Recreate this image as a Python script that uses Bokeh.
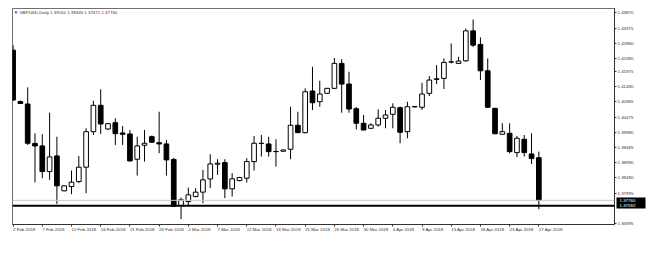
from bokeh.plotting import figure
from bokeh.models import (Range1d, LinearAxis, FixedTicker, Span, Label,
                          ColumnDataSource, PrintfTickFormatter)
from bokeh.embed import file_html
from bokeh.resources import INLINE

# ---- data (GBPUSD Daily, 2 Feb 2018 .. 27 Apr 2018, incl. Sunday bars) ----
opens = [1.42656, 1.40981, 1.40900, 1.39615, 1.39534, 1.38698, 1.39208, 1.38070, 1.38210, 1.38372,
         1.38841, 1.39999, 1.40858, 1.40087, 1.40292, 1.39957, 1.39924, 1.39101, 1.39556, 1.39836,
         1.39641, 1.39599, 1.39095, 1.37592, 1.37722, 1.37884, 1.38028, 1.38460, 1.38938, 1.38990,
         1.38135, 1.38405, 1.38483, 1.39023, 1.39612, 1.39599, 1.39355, 1.39361, 1.39426, 1.40207,
         1.39966, 1.41323, 1.40975, 1.41248, 1.41411, 1.42224, 1.41550, 1.40747, 1.40272, 1.40109,
         1.40217, 1.40435, 1.40565, 1.40780, 1.39999, 1.40806, 1.40793, 1.41248, 1.41703, 1.41736,
         1.42266, 1.42224, 1.42308, 1.43284, 1.42842, 1.41983, 1.40760, 1.39914, 1.39947, 1.39316,
         1.39752, 1.39273, 1.39150]
highs = [1.42819, 1.41014, 1.41443, 1.39947, 1.39914, 1.40617, 1.39836, 1.38249, 1.38730, 1.39208,
         1.40109, 1.41007, 1.41378, 1.40282, 1.40435, 1.40184, 1.40054, 1.39836, 1.40054, 1.39875,
         1.40649, 1.39729, 1.39143, 1.37852, 1.38177, 1.38158, 1.38753, 1.39264, 1.39101, 1.39101,
         1.38646, 1.38525, 1.39133, 1.39859, 1.39891, 1.39836, 1.39752, 1.39404, 1.40812, 1.40649,
         1.41411, 1.42113, 1.41658, 1.41420, 1.42396, 1.42364, 1.41951, 1.40802, 1.40542, 1.40272,
         1.40727, 1.40705, 1.40923, 1.40819, 1.40975, 1.40835, 1.41593, 1.41811, 1.42169, 1.42386,
         1.42874, 1.42439, 1.43362, 1.43655, 1.43070, 1.42386, 1.40770, 1.40272, 1.40272, 1.39859,
         1.39891, 1.39947, 1.39346]
lows = [1.40997, 1.40900, 1.39566, 1.38340, 1.38483, 1.38428, 1.37647, 1.38054, 1.37962, 1.38320,
        1.37995, 1.39891, 1.39924, 1.40054, 1.39566, 1.39566, 1.39023, 1.38567, 1.39023, 1.39631,
        1.39296, 1.38567, 1.37549, 1.37149, 1.37592, 1.37858, 1.37670, 1.38158, 1.38590, 1.37832,
        1.37884, 1.38379, 1.38340, 1.38730, 1.39186, 1.39186, 1.38860, 1.39339, 1.39101, 1.39957,
        1.39940, 1.40705, 1.40812, 1.41225, 1.41388, 1.40617, 1.40617, 1.40070, 1.40038, 1.40087,
        1.40161, 1.40109, 1.40109, 1.39621, 1.39784, 1.40786, 1.40705, 1.41160, 1.41550, 1.41388,
        1.42224, 1.42208, 1.42276, 1.42764, 1.41681, 1.40770, 1.39914, 1.39898, 1.39296, 1.39166,
        1.39186, 1.38948, 1.37471]
closes = [1.41030, 1.40916, 1.39621, 1.39534, 1.38698, 1.39176, 1.38232, 1.38232, 1.38353, 1.38841,
          1.39999, 1.40858, 1.40249, 1.40259, 1.39934, 1.39914, 1.39046, 1.39534, 1.39621, 1.39654,
          1.39599, 1.39078, 1.37566, 1.37777, 1.37940, 1.38028, 1.38428, 1.38948, 1.38971, 1.38135,
          1.38460, 1.38503, 1.39023, 1.39621, 1.39621, 1.39348, 1.39348, 1.39404, 1.40207, 1.39966,
          1.41300, 1.40942, 1.41225, 1.41411, 1.42224, 1.41550, 1.40737, 1.40272, 1.40054, 1.40217,
          1.40435, 1.40542, 1.40793, 1.39979, 1.40812, 1.40819, 1.41225, 1.41681, 1.41723, 1.42256,
          1.42276, 1.42299, 1.43284, 1.42819, 1.41983, 1.40793, 1.39930, 1.39999, 1.39348, 1.39784,
          1.39316, 1.39121, 1.37760]

date_labels = ["2 Feb 2018", "7 Feb 2018", "12 Feb 2018", "16 Feb 2018", "21 Feb 2018",
               "26 Feb 2018", "2 Mar 2018", "7 Mar 2018", "12 Mar 2018", "16 Mar 2018",
               "21 Mar 2018", "26 Mar 2018", "30 Mar 2018", "4 Apr 2018", "9 Apr 2018",
               "13 Apr 2018", "18 Apr 2018", "23 Apr 2018", "27 Apr 2018"]
label_every = 4

price_ticks = [1.43870, 1.43375, 1.42880, 1.42380, 1.41975, 1.41480, 1.40985, 1.40475,
               1.39980, 1.39485, 1.38990, 1.38490, 1.37995, 1.36995]

title_text = "\u25bc GBPUSD,Daily  1.39150 1.39346 1.37471 1.37760"
bid_price = 1.37760
hline_price = 1.37582

# ---- build ----
n = len(opens)
idx = list(range(n))
body_top = [max(o, c) for o, c in zip(opens, closes)]
body_bot = [min(o, c) for o, c in zip(opens, closes)]
fills = ["black" if c < o else "white" for o, c in zip(opens, closes)]
src = ColumnDataSource(dict(x=idx, o=opens, h=highs, l=lows, c=closes,
                            top=body_top, bot=body_bot, fill=fills))

FONT = "Liberation Sans"
FS = "4.4px"
TXT = "#333333"

p = figure(width=648, height=266, output_backend="svg", toolbar_location=None,
           x_range=Range1d(-0.08, 82.36), y_range=Range1d(1.36973, 1.44013),
           x_axis_location=None, y_axis_location=None,
           min_border_left=12, min_border_right=34, min_border_top=8, min_border_bottom=42)
p.background_fill_color = "white"
p.border_fill_color = "white"
p.outline_line_color = "#707070"
p.outline_line_width = 1
p.xgrid.visible = False
p.ygrid.visible = False

# bid line & horizontal line
p.add_layout(Span(location=bid_price, dimension="width", line_color="#c8c8c8", line_width=1))
p.add_layout(Span(location=hline_price, dimension="width", line_color="black", line_width=2))

p.segment(x0="x", y0="h", x1="x", y1="l", source=src, line_color="black", line_width=1)
p.vbar(x="x", top="top", bottom="bot", width=0.64, source=src,
       fill_color="fill", line_color="black", line_width=1)

# right price axis
yax = LinearAxis(ticker=FixedTicker(ticks=price_ticks),
                 formatter=PrintfTickFormatter(format="%.5f"))
yax.axis_line_color = "#333333"
yax.major_tick_line_color = "#333333"
yax.major_tick_out = 2
yax.major_tick_in = 0
yax.minor_tick_out = 0
yax.minor_tick_in = 0
yax.major_label_standoff = 1
yax.major_label_text_font = FONT
yax.major_label_text_font_size = FS
yax.major_label_text_color = TXT
p.add_layout(yax, "right")

# price tags (black boxes with white text) drawn as a second right axis
tag_ax = LinearAxis(ticker=FixedTicker(ticks=[bid_price, hline_price]),
                    formatter=PrintfTickFormatter(format="%.5f"))
tag_ax.axis_line_color = None
tag_ax.major_tick_line_color = "black"
tag_ax.major_tick_line_width = 6
tag_ax.major_tick_in = 20
tag_ax.major_tick_out = 9
tag_ax.minor_tick_out = 0
tag_ax.minor_tick_in = 0
tag_ax.major_label_standoff = -26
tag_ax.major_label_text_font = FONT
tag_ax.major_label_text_font_size = FS
tag_ax.major_label_text_color = "white"
p.add_layout(tag_ax, "right")

# bottom date axis (labels start at their bar)
xticks = [i * label_every for i in range(len(date_labels))]
xax = LinearAxis(ticker=FixedTicker(ticks=xticks),
                 major_label_overrides={t: l for t, l in zip(xticks, date_labels)})
xax.axis_line_color = "#333333"
xax.major_tick_line_color = "#333333"
xax.major_tick_out = 2
xax.major_tick_in = 0
xax.minor_tick_out = 0
xax.minor_tick_in = 0
xax.major_label_standoff = 3
xax.major_label_orientation = -0.0001
xax.major_label_text_font = FONT
xax.major_label_text_font_size = FS
xax.major_label_text_color = TXT
p.add_layout(xax, "below")

# title inside chart
p.add_layout(Label(x=0.1, y=1.43895, text=title_text, text_font=FONT, text_font_size=FS,
                   text_color=TXT, text_baseline="middle"))

open("out.html", "w").write(file_html(p, INLINE))
